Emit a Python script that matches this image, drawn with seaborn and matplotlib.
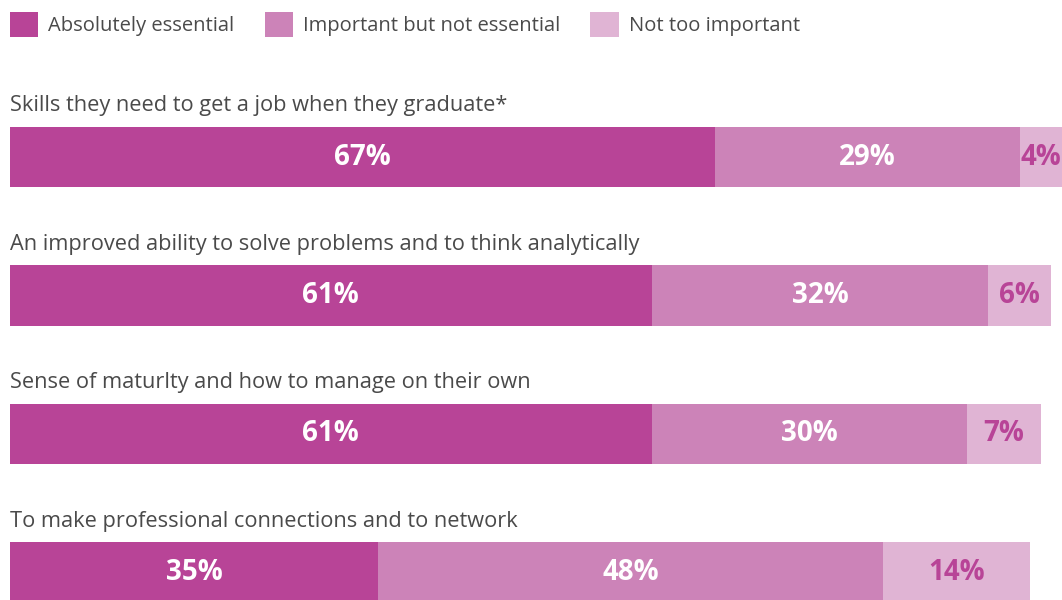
import matplotlib
matplotlib.use("Agg")
import matplotlib.pyplot as plt
from matplotlib.patches import Patch
import pandas as pd
import seaborn as sns

# data
ITEMS = [
    "Skills they need to get a job when they graduate*",
    "An improved ability to solve problems and to think analytically",
    "Sense of maturlty and how to manage on their own",
    "To make professional connections and to network",
]
ESSENTIAL = [67, 61, 61, 35]
IMPORTANT = [29, 32, 30, 48]
NOT_TOO = [4, 6, 7, 14]
SERIES = ["Absolutely essential", "Important but not essential", "Not too important"]

COLORS = ["#B84497", "#CC83B8", "#E0B4D4"]
TEXT_GREY = "#4A4A4A"

sns.set_theme(style="white")
plt.rcParams["font.family"] = ["Open Sans", "DejaVu Sans"]

df = pd.DataFrame({"item": ITEMS, "ess": ESSENTIAL, "imp": IMPORTANT, "not": NOT_TOO})
df["cum1"] = df["ess"]
df["cum2"] = df["ess"] + df["imp"]
df["cum3"] = df["cum2"] + df["not"]

fig = plt.figure(figsize=(10.62, 6.0), dpi=100)
ax = fig.add_axes([0, 0, 1, 1])

# stacked bars: draw the longest first so shorter ones sit on top
for col, color in zip(["cum3", "cum2", "cum1"], COLORS[::-1]):
    sns.barplot(data=df, y="item", x=col, color=color, orient="h",
                width=0.44, linewidth=0, saturation=1, ax=ax, order=ITEMS)

ax.set_xlim(-0.95, 100.0)
ax.set_ylim(3.199, -1.134)
ax.axis("off")

# value labels and row titles
for i, row in df.iterrows():
    starts = [0, row["cum1"], row["cum2"]]
    vals = [row["ess"], row["imp"], row["not"]]
    for j, (s, v) in enumerate(zip(starts, vals)):
        ax.text(s + v / 2, i, f"{v}%", ha="center", va="center",
                fontsize=20, fontweight="bold",
                color="white" if j < 2 else COLORS[0])
    ax.text(0, i - 0.37, row["item"], ha="left", va="center",
            fontsize=15.7, color=TEXT_GREY)

handles = [Patch(facecolor=c, edgecolor="none") for c in COLORS]
leg = ax.legend(handles, SERIES, loc="upper left",
                bbox_to_anchor=(10 / 1062, 1 - 12 / 600), bbox_transform=fig.transFigure,
                ncol=3, frameon=False, fontsize=14.5, borderpad=0, borderaxespad=0,
                handlelength=1.4, handleheight=1.5, handletextpad=0.5,
                columnspacing=1.5)
for t in leg.get_texts():
    t.set_color(TEXT_GREY)

fig.savefig("out.png", dpi=100)
